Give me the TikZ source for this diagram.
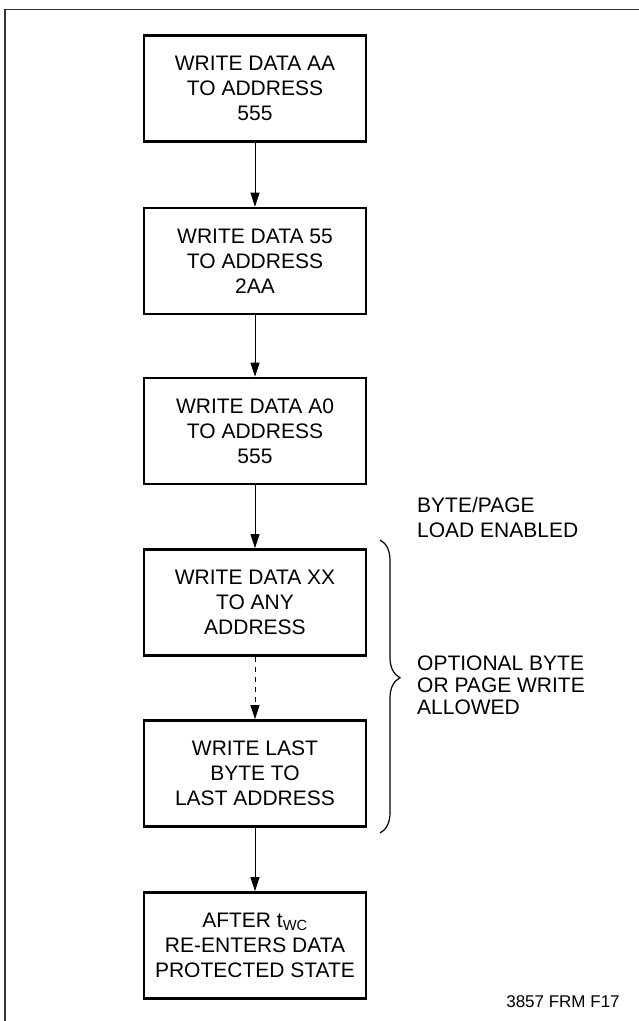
\documentclass[tikz,border=0pt]{standalone}
\usepackage{fontspec}
\setmainfont{Liberation Sans}
\usetikzlibrary{arrows.meta,decorations.pathreplacing}
\tikzset{
  flowbox/.style={draw, line width=2.6pt, minimum width=222pt, minimum height=106pt,
    inner sep=0pt, align=center, font=\fontsize{21}{25}\selectfont},
  flowarrow/.style={line width=1pt, -{Triangle[length=14pt,width=9pt]}},
  sidenote/.style={anchor=west, align=left, inner sep=0pt}
}
\begin{document}
\begin{tikzpicture}[x=1pt, y=-1pt]
\useasboundingbox (0,0) rectangle (639,1021);
% outer frame
\draw[line width=1.7pt, black!80] (5,1030) -- (5,9.5) -- (645,9.5);
% the steps
\node[flowbox] (wraa) at (255,88.5){WRITE DATA AA\\TO ADDRESS\\555};
\node[flowbox] (wr55) at (255,261){WRITE DATA 55\\TO ADDRESS\\2AA};
\node[flowbox] (wra0) at (255,431){WRITE DATA A0\\TO ADDRESS\\555};
\node[flowbox] (wrxx) at (255,602.5){WRITE DATA XX\\TO ANY\\ADDRESS};
\node[flowbox] (wrlast) at (255,773.5){WRITE LAST\\BYTE TO\\LAST ADDRESS};
\node[flowbox] (done) at (255,945.5){AFTER t\textsubscript{WC}\\RE-ENTERS DATA\\PROTECTED STATE};
\draw[flowarrow] (wraa) -- (wr55);
\draw[flowarrow] (wr55) -- (wra0);
\draw[flowarrow] (wra0) -- (wrxx);
\draw[flowarrow, dash pattern=on 5pt off 5pt] (wrxx) -- (wrlast);
\draw[flowarrow] (wrlast) -- (done);
% side notes
\node[sidenote, font=\fontsize{21}{25}\selectfont] (enabled) at (417,517.5){BYTE/PAGE\\LOAD ENABLED};
\draw[line width=1.2pt, decorate, decoration={brace, amplitude=20pt, aspect=0.47}] (380,540) -- (380,833);
\node[sidenote, font=\fontsize{21}{22}\selectfont] (optional) at (417,685){OPTIONAL BYTE\\OR PAGE WRITE\\ALLOWED};
\node[font=\fontsize{17}{20}\selectfont] (figid) at (563,1002){3857 FRM F17};
\end{tikzpicture}
\end{document}
